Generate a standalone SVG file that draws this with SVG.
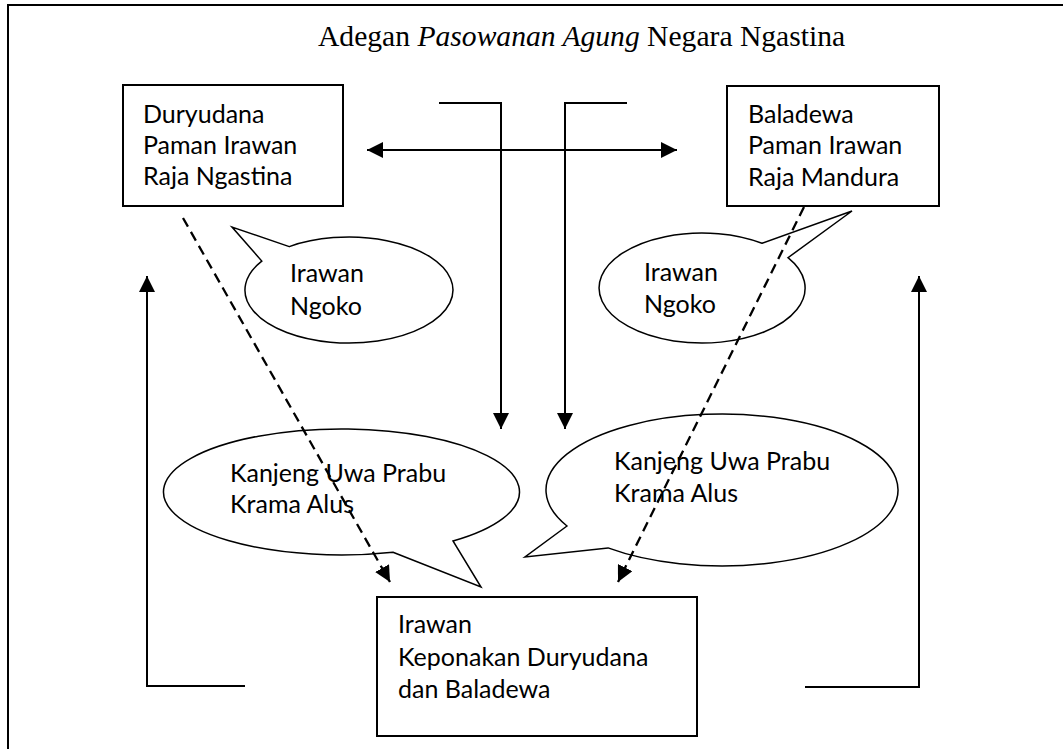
<svg xmlns="http://www.w3.org/2000/svg" width="1063" height="749" viewBox="0 0 1063 749">
<style>
.frame{fill:none;stroke:#000;stroke-width:2}
.box{fill:#fff;stroke:#000;stroke-width:2}
.bubble{fill:#fff;stroke:#000;stroke-width:1.5;stroke-linejoin:miter}
.conn{fill:none;stroke:#000;stroke-width:2}
.dash{fill:none;stroke:#000;stroke-width:2.3;stroke-dasharray:10 6}
.t{font-family:Lato,"Liberation Sans",sans-serif;font-size:25px;fill:#000}
.title{font-family:"Liberation Serif","Times New Roman",serif;font-size:29.6px;fill:#000}
</style>
<defs>
<marker id="ah" viewBox="0 0 16 16" refX="16" refY="8" markerWidth="16" markerHeight="16" markerUnits="userSpaceOnUse" orient="auto-start-reverse">
<path d="M0,0 L16,8 L0,16 Z" fill="#000"/>
</marker>
</defs>
<rect width="1063" height="749" fill="#fff"/>
<path class="frame" d="M8,749 V5 H1063"/>
<text class="title" x="318" y="46">Adegan <tspan font-style="italic">Pasowanan Agung</tspan> Negara Ngastina</text>

<g id="bubble-ngoko-left">
<path class="bubble" d="M289.3,246.6 L232,227 L261.8,261.1 A104 53 0 1 0 289.3,246.6 Z"/>
<text class="t" x="290" y="282">Irawan</text>
<text class="t" x="290" y="315">Ngoko</text>
</g>
<g id="bubble-ngoko-right">
<path class="bubble" d="M762,243.3 L852,211 L788,257.7 A103 55 0 1 1 762,243.3 Z"/>
<text class="t" x="644" y="281">Irawan</text>
<text class="t" x="644" y="313">Ngoko</text>
</g>
<g id="bubble-krama-left">
<path class="bubble" d="M393,552.2 L481,587 L453,541 A178 63 0 1 0 393,552.2 Z"/>
<text class="t" x="230" y="482">Kanjeng Uwa Prabu</text>
<text class="t" x="230" y="513">Krama Alus</text>
</g>
<g id="bubble-krama-right">
<path class="bubble" d="M567,526 L525,557 L608,547.9 A176 76 0 1 0 567,526 Z"/>
<text class="t" x="614" y="470">Kanjeng Uwa Prabu</text>
<text class="t" x="614" y="502">Krama Alus</text>
</g>

<g id="node-duryudana">
<rect class="box" x="123" y="85" width="220" height="121"/>
<text class="t" x="143" y="123">Duryudana</text>
<text class="t" x="143" y="154">Paman Irawan</text>
<text class="t" x="143" y="185">Raja Ngastina</text>
</g>
<g id="node-baladewa">
<rect class="box" x="727" y="86" width="212" height="120"/>
<text class="t" x="748" y="123">Baladewa</text>
<text class="t" x="748" y="154">Paman Irawan</text>
<text class="t" x="748" y="186">Raja Mandura</text>
</g>
<g id="node-irawan">
<rect class="box" x="377" y="597" width="320" height="139"/>
<text class="t" x="398" y="633">Irawan</text>
<text class="t" x="398" y="666">Keponakan Duryudana</text>
<text class="t" x="398" y="698">dan Baladewa</text>
</g>

<g id="connectors">
<line class="conn" x1="367" y1="150" x2="677" y2="150" marker-start="url(#ah)" marker-end="url(#ah)"/>
<path class="conn" d="M439,103 H501 V429" marker-end="url(#ah)"/>
<path class="conn" d="M627,103 H565 V429" marker-end="url(#ah)"/>
<path class="conn" d="M245,686 H147 V276" marker-end="url(#ah)"/>
<path class="conn" d="M805,687 H919 V276" marker-end="url(#ah)"/>
<line class="dash" x1="183" y1="218" x2="390" y2="582" marker-end="url(#ah)"/>
<line class="dash" x1="804" y1="207" x2="618" y2="582" marker-end="url(#ah)"/>
</g>
</svg>
